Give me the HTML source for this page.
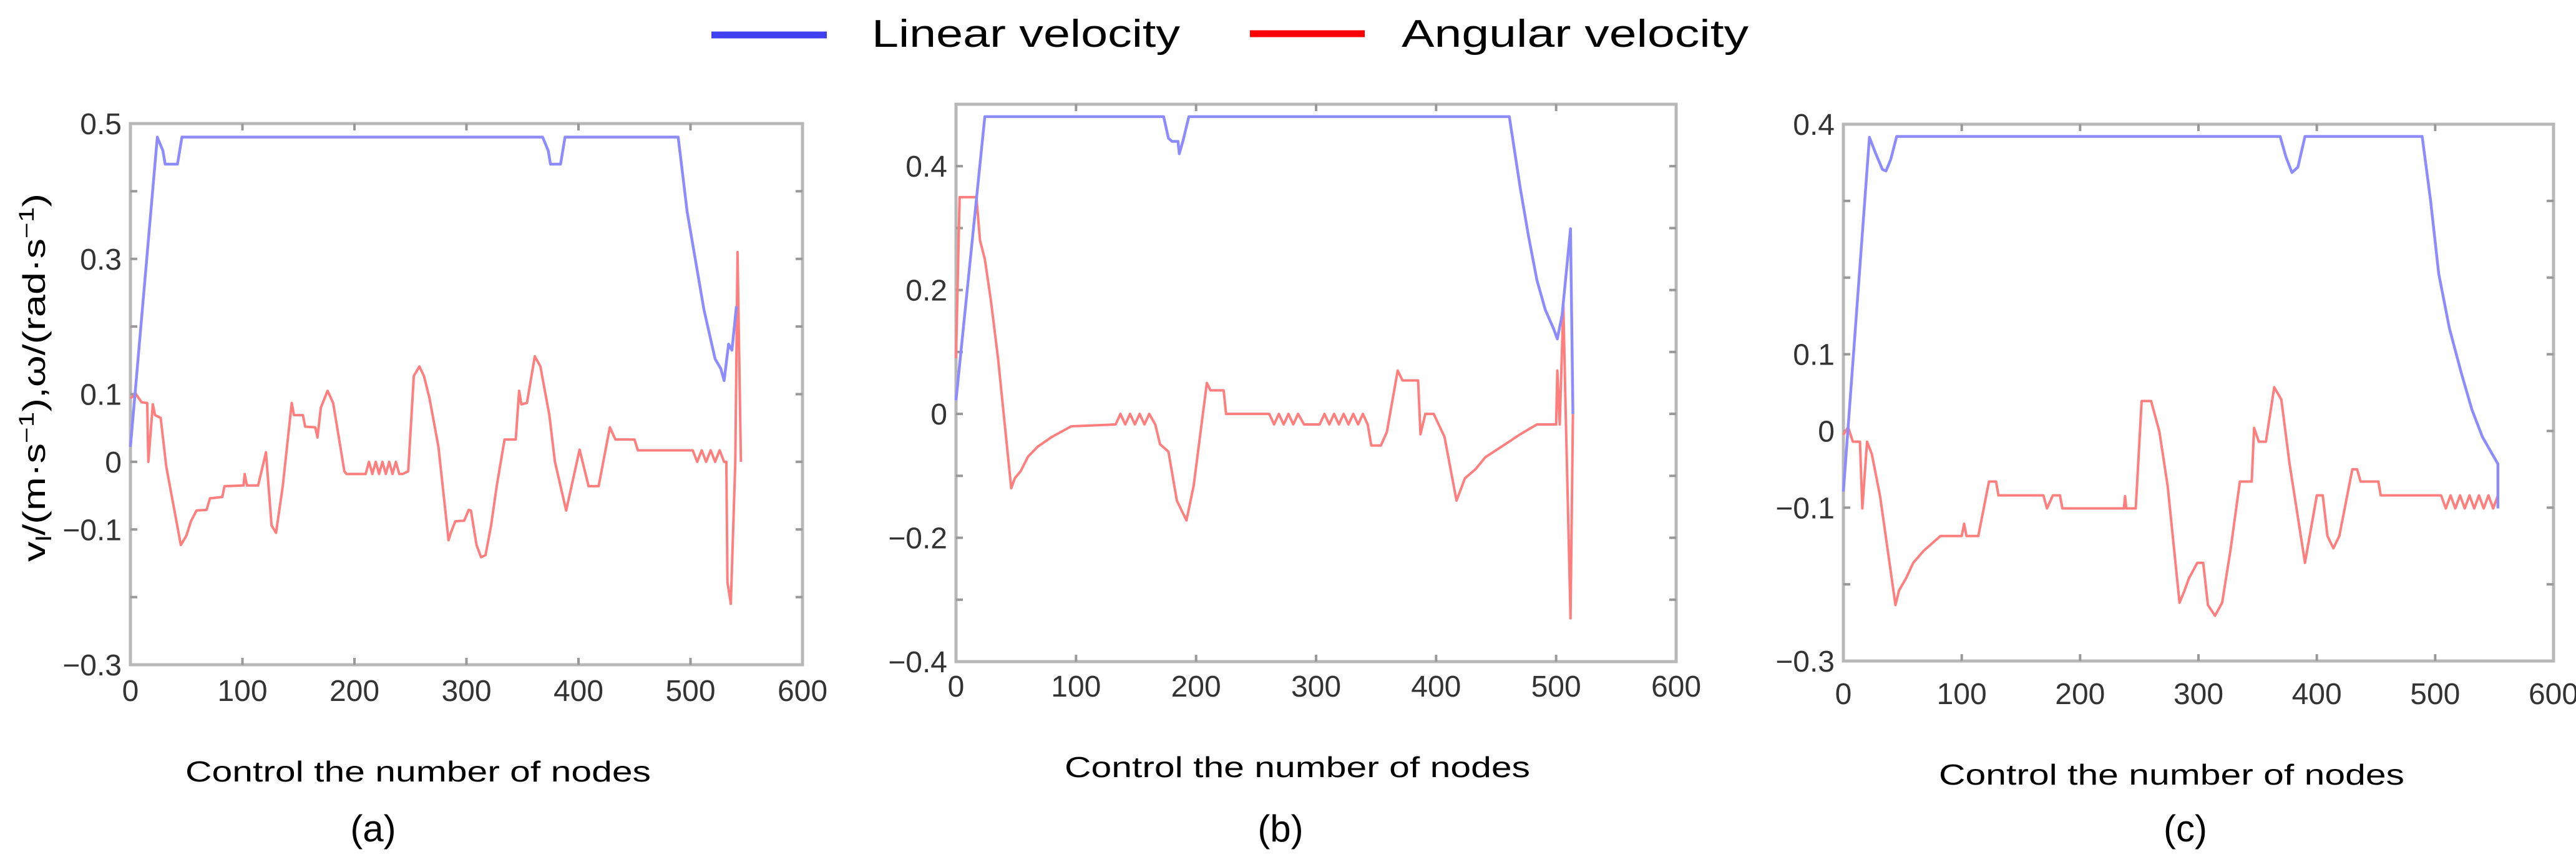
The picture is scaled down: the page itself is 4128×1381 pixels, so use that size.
<!DOCTYPE html>
<html><head><meta charset="utf-8">
<style>
html,body{margin:0;padding:0;background:#fff;}
svg{display:block;}
text{font-family:"Liberation Sans",sans-serif;}
</style></head>
<body>
<svg id="fig" xmlns="http://www.w3.org/2000/svg" width="4128" height="1381" viewBox="0 0 4128 1381">
  <g>
    <g>
      <line x1="1140" y1="56" x2="1325" y2="56" stroke="#4040ee" stroke-width="11"/>
      <text x="1397" y="75" font-size="62" textLength="494" lengthAdjust="spacingAndGlyphs" fill="#000">Linear velocity</text>
    </g>
    <g>
      <line x1="2003" y1="54" x2="2187" y2="54" stroke="#ff0000" stroke-width="11"/>
      <text x="2246" y="75" font-size="62" textLength="556" lengthAdjust="spacingAndGlyphs" fill="#000">Angular velocity</text>
    </g>
  </g>
</svg>
<script>
// ---------- Panel (a) data ----------
const aLinX = [0,24,29,31,42,46,368,373,375,384,388,489,497,512,522,527,530,534,537,541];
const aLinY = [0.022,0.48,0.46,0.44,0.44,0.48,0.48,0.46,0.44,0.44,0.48,0.48,0.37,0.225,0.152,0.138,0.12,0.174,0.165,0.23];
const aAngX = [0,5,10,15,16,20,22,27,32,45,50,54,59,68,71,82,84,101,102,104,114,121,126,130,136,144,146,154,156,165,167,170,176,181,191,193,210,213,216,219,222,225,228,231,234,237,240,243,248,253,258,262,267,275,284,286,290,298,302,304,309,313,317,322,327,334,344,347,349,354,361,366,374,379,389,401,409,418,428,433,450,453,502,506,510,514,518,522,526,530,532,533,536,540,542,545];
const aAngY = [0.094,0.10,0.088,0.087,0,0.085,0.069,0.065,-0.007,-0.123,-0.109,-0.088,-0.072,-0.071,-0.054,-0.052,-0.036,-0.035,-0.018,-0.035,-0.035,0.014,-0.094,-0.105,-0.036,0.087,0.069,0.069,0.052,0.051,0.036,0.08,0.105,0.087,-0.014,-0.018,-0.018,0,-0.018,0,-0.018,0,-0.018,0,-0.018,0,-0.018,-0.018,-0.014,0.127,0.141,0.127,0.094,0.022,-0.116,-0.105,-0.088,-0.087,-0.071,-0.072,-0.123,-0.141,-0.138,-0.094,-0.036,0.033,0.033,0.105,0.085,0.087,0.156,0.141,0.069,0,-0.072,0.018,-0.036,-0.036,0.051,0.033,0.033,0.017,0.017,0,0.017,0,0.017,0,0.017,0,0,-0.178,-0.21,0,0.31,0];
const aYTicks = [0.5,0.3,0.1,0,-0.1,-0.3];
const aYTickLabels = ["0.5","0.3","0.1","0","\u22120.1","\u22120.3"];

// ---------- Panel (b) data ----------
const bLinX = [0,24,173,177,180,185,186,189,194,461,470,477,484,491,498,501,505,512,514];
const bLinY = [0.022,0.48,0.48,0.445,0.44,0.44,0.42,0.44,0.48,0.48,0.366,0.287,0.216,0.168,0.137,0.121,0.16,0.299,0];
const bAngX = [0,3,17,20,24,29,35,46,49,54,60,68,80,96,133,137,141,145,149,153,157,161,166,170,177,184,192,198,209,212,223,225,261,265,269,273,277,281,285,290,303,307,311,315,319,323,327,331,335,339,343,346,354,359,368,372,385,387,391,398,407,417,424,433,441,456,470,484,500,501,503,506,508,512,514];
const bAngY = [0.09,0.35,0.35,0.28,0.25,0.184,0.09,-0.12,-0.104,-0.092,-0.069,-0.053,-0.037,-0.02,-0.017,0,-0.017,0,-0.017,0,-0.017,0,-0.017,-0.049,-0.061,-0.14,-0.172,-0.116,0.05,0.038,0.038,0,0,-0.017,0,-0.017,0,-0.017,0,-0.017,-0.017,0,-0.017,0,-0.017,0,-0.017,0,-0.017,0,-0.017,-0.051,-0.051,-0.029,0.07,0.054,0.054,-0.033,0,0,-0.037,-0.14,-0.104,-0.089,-0.07,-0.051,-0.033,-0.017,-0.017,0.07,-0.017,0.176,0,-0.33,0];
const bYTicks = [0.4,0.2,0,-0.2,-0.4];
const bYTickLabels = ["0.4","0.2","0","\u22120.2","\u22120.4"];

// ---------- Panel (c) data ----------
const cLinX = [0,22,27,33,36,40,45,369,374,379,384,390,489,496,503,512,522,531,540,553,553];
const cLinY = [-0.079,0.383,0.363,0.341,0.339,0.354,0.384,0.384,0.357,0.337,0.344,0.384,0.384,0.302,0.205,0.134,0.076,0.028,-0.008,-0.043,-0.101];
const cAngX = [0,4,8,14,16,20,24,31,44,47,53,59,68,82,100,102,104,114,123,129,131,169,172,177,183,185,237,238,239,247,252,260,267,274,284,288,292,299,304,308,314,320,327,335,345,347,351,357,364,370,377,390,400,405,409,414,419,430,434,437,452,454,505,509,513,517,521,525,529,533,537,541,545,549,553];
const cAngY = [-0.005,0.005,-0.014,-0.014,-0.101,-0.014,-0.03,-0.085,-0.227,-0.208,-0.192,-0.172,-0.156,-0.137,-0.137,-0.121,-0.137,-0.137,-0.066,-0.066,-0.084,-0.084,-0.101,-0.084,-0.084,-0.101,-0.101,-0.085,-0.101,-0.101,0.039,0.039,-0.001,-0.072,-0.224,-0.209,-0.192,-0.172,-0.172,-0.227,-0.241,-0.224,-0.156,-0.066,-0.066,0.004,-0.014,-0.014,0.057,0.041,-0.043,-0.172,-0.084,-0.084,-0.137,-0.153,-0.137,-0.05,-0.05,-0.066,-0.066,-0.084,-0.084,-0.101,-0.084,-0.101,-0.084,-0.101,-0.084,-0.101,-0.084,-0.101,-0.084,-0.101,-0.084];
const cYTicks = [0.4,0.1,0,-0.1,-0.3];
const cYTickLabels = ["0.4","0.1","0","\u22120.1","\u22120.3"];

const xTicks = [0,100,200,300,400,500,600];
const xTickLabels = ["0","100","200","300","400","500","600"];

const NS = "http://www.w3.org/2000/svg";
const svg = document.getElementById('fig');
function mk(tag, attrs, parent){
  const e = document.createElementNS(NS, tag);
  for (const k in attrs) e.setAttribute(k, attrs[k]);
  (parent||svg).appendChild(e);
  return e;
}

function panel(id, L, R, T, B, ymin, ymax, minorStep, yTicks, yLabels, linX, linY, angX, angY, letter, titleCx, capCx, tickLabelY){
  const g = mk('g', {});
  
  
  const sx = v => L + (v - 0) / 600 * (R - L);
  const sy = v => B - (v - ymin) / (ymax - ymin) * (B - T);
  const fr = mk('rect', {x:L, y:T, width:R-L, height:B-T, fill:'none', stroke:'#b8b8b8', 'stroke-width':5}, g);
  
  
  const nMinor = Math.round((ymax - ymin) / minorStep);
  for (let i = 1; i < nMinor; i++) {
    const yy = sy(ymin + i * minorStep);
    const t1 = mk('line', {x1:L, x2:L+11, y1:yy, y2:yy, stroke:'#999', 'stroke-width':4}, g);
    
    
    const t2 = mk('line', {x1:R, x2:R-11, y1:yy, y2:yy, stroke:'#999', 'stroke-width':4}, g);
    
    
  }
  xTicks.forEach((v, i) => {
    const xx = sx(v);
    if (i > 0 && i < xTicks.length - 1) {
      const t1 = mk('line', {x1:xx, x2:xx, y1:B, y2:B-11, stroke:'#999', 'stroke-width':4}, g);
      
      
      const t2 = mk('line', {x1:xx, x2:xx, y1:T, y2:T+11, stroke:'#999', 'stroke-width':4}, g);
      
      
    }
    const tl = mk('text', {x:xx, y:tickLabelY, 'font-size':48, fill:'#333', 'text-anchor':'middle'}, g);
    tl.textContent = xTickLabels[i];
    
    
  });
  yTicks.forEach((v, i) => {
    const tl = mk('text', {x:L-14, y:sy(v)+17, 'font-size':48, fill:'#333', 'text-anchor':'end'}, g);
    tl.textContent = yLabels[i];
    
    
  });
  const ang = mk('polyline', {points: angX.map((x,i)=>sx(x)+','+sy(angY[i])).join(' '), fill:'none', stroke:'#ff7f7f', 'stroke-width':4, 'stroke-linejoin':'round'}, g);
  
  
  const lin = mk('polyline', {points: linX.map((x,i)=>sx(x)+','+sy(linY[i])).join(' '), fill:'none', stroke:'#8c8cff', 'stroke-width':4.5, 'stroke-linejoin':'round'}, g);
  
  
  const xt = mk('text', {x:titleCx, y:tickLabelY+129, 'font-size':46, fill:'#000', 'text-anchor':'middle', textLength:746, lengthAdjust:'spacingAndGlyphs'}, g);
  xt.textContent = 'Control the number of nodes';
  
  
  const cap = mk('text', {x:capCx, y:1348, 'font-size':60, fill:'#000', 'text-anchor':'middle'}, g);
  cap.textContent = '(' + letter + ')';
  
  
}

panel('a', 209, 1286, 198, 1065, -0.3, 0.5, 0.1, aYTicks, aYTickLabels, aLinX, aLinY, aAngX, aAngY, 'a', 670, 598, 1123);
panel('b', 1532, 2686, 167, 1060, -0.4, 0.5, 0.1, bYTicks, bYTickLabels, bLinX, bLinY, bAngX, bAngY, 'b', 2079, 2052, 1116);
panel('c', 2954, 4092, 199, 1059, -0.3, 0.4, 0.1, cYTicks, cYTickLabels, cLinX, cLinY, cAngX, cAngY, 'c', 3480, 3502, 1128);

const yt = mk('text', {x:0, y:0, 'font-size':50, fill:'#000', 'text-anchor':'middle', transform:'translate(72,605) rotate(-90)', textLength:590, lengthAdjust:'spacingAndGlyphs'});
yt.innerHTML = 'v<tspan font-size="34" dy="10">l</tspan><tspan dy="-10">/(m·s</tspan><tspan font-size="34" dy="-18">−1</tspan><tspan dy="18">),ω/(rad·s</tspan><tspan font-size="34" dy="-18">−1</tspan><tspan dy="18">)</tspan>';


</script>
</body></html>
